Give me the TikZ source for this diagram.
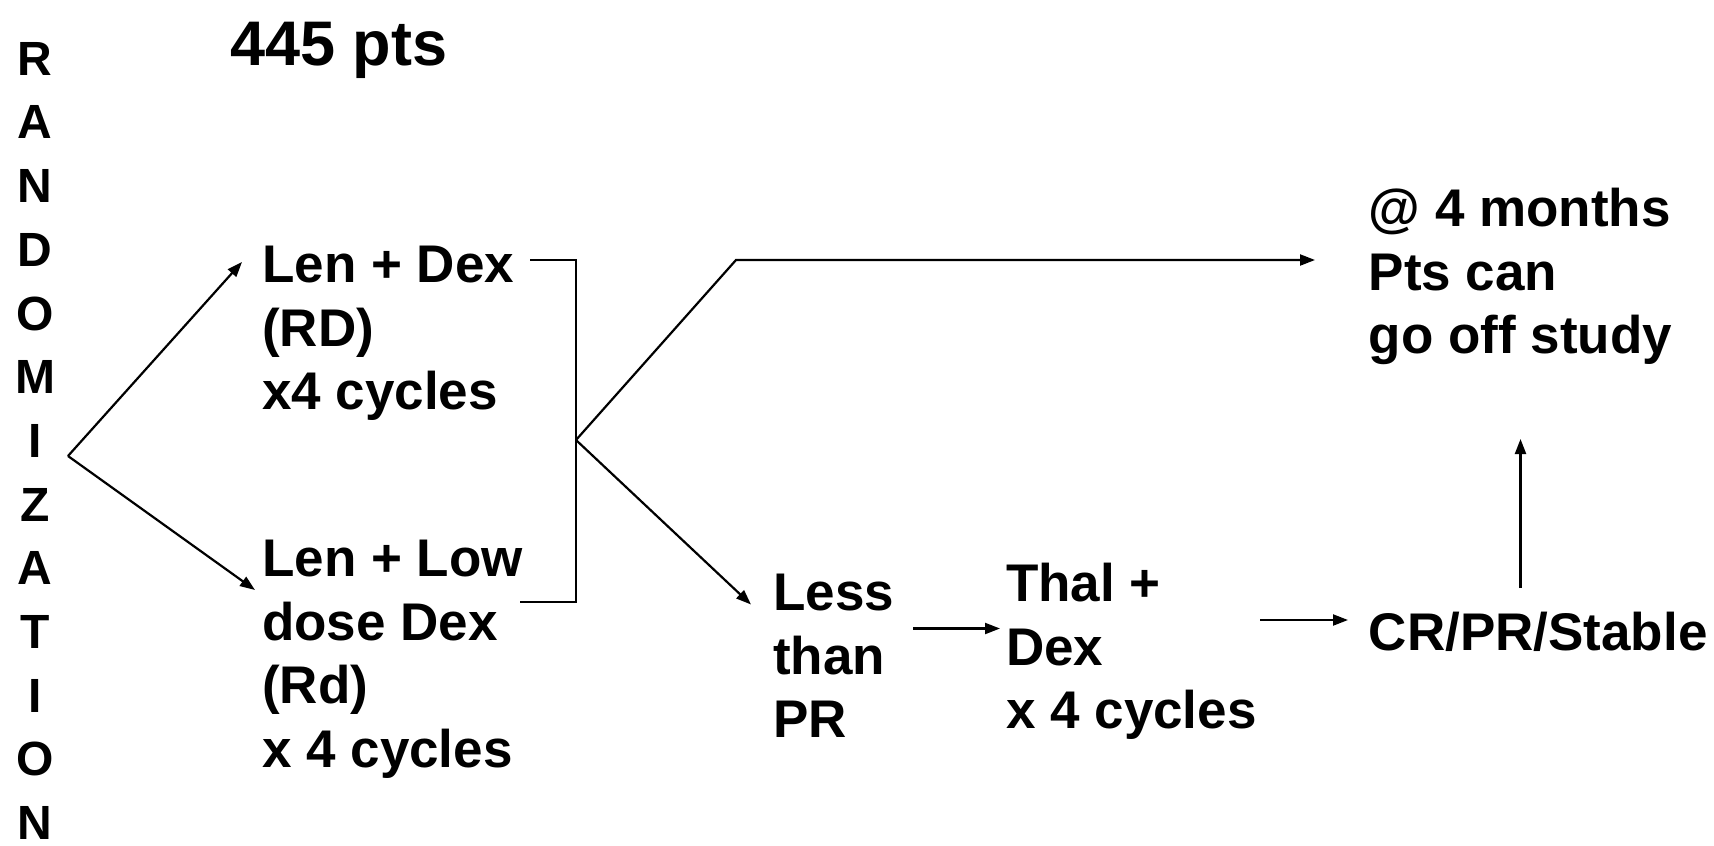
\documentclass[tikz,border=0pt]{standalone}
\usepackage{fontspec}
\setmainfont{Liberation Sans}
\usetikzlibrary{arrows.meta}

\begin{document}
\begin{tikzpicture}[x=1pt,y=-1pt,
  every node/.style={inner sep=0pt, font=\bfseries\fontsize{53}{63.6}\selectfont},
  txt/.style={anchor=north west, align=left},
  line/.style={line width=2.2pt, line join=miter},
  arr/.style={line, -{Triangle[length=15pt,width=11pt]}}]

% page frame
\fill[white] (0,0) rectangle (1714,846);
\useasboundingbox (0,0) rectangle (1714,846);

% labels
\node[anchor=north, align=center, font=\bfseries\fontsize{48}{63.7}\selectfont]
  (rand) at (35,42) {R\\A\\N\\D\\O\\M\\I\\Z\\A\\T\\I\\O\\N};
\node[anchor=base west, font=\bfseries\fontsize{63}{70}\selectfont]
  (npts) at (230,65.6) {445 pts};

\node[txt] (rd)    at (262,246)  {Len + Dex\\(RD)\\x4 cycles};
\node[txt] (rdlow) at (262,540)  {Len + Low\\dose Dex\\(Rd)\\x 4 cycles};
\node[txt] (less)  at (773,574)  {Less\\than\\PR};
\node[txt] (thal)  at (1006,563) {Thal +\\Dex\\x 4 cycles};
\node[txt] (resp)  at (1368.6,612) {CR/PR/Stable};
\node[txt] (off)   at (1368.6,188) {@ 4 months\\Pts can\\go off study};

% junctions and connector ends
\coordinate (split)    at (68,456);
\coordinate (rdin)     at (242,262);
\coordinate (rdlowin)  at (255,590);
\coordinate (rdout)    at (530,260);
\coordinate (rdlowout) at (520,602);
\coordinate (merge)    at (576,440);
\coordinate (bend)     at (736,260);
\coordinate (offin)    at (1315,260);
\coordinate (lessin)   at (751,604.5);
\coordinate (lessout)  at (913,628.5);
\coordinate (thalin)   at (1000,628.5);
\coordinate (thalout)  at (1260,620);
\coordinate (respin)   at (1348,620);
\coordinate (respout)  at (1520.5,588);
\coordinate (offbelow) at (1520.5,439);

% randomization split
\draw[arr] (split) -- (rdin);
\draw[arr] (split) -- (rdlowin);

% bracket joining both arms
\draw[line] (rdout) -- (rdout -| merge) -- (rdlowout -| merge) -- (rdlowout);

% outcomes after 4 cycles
\draw[arr] (merge) -- (bend) -- (offin);
\draw[arr] (merge) -- (lessin);
\draw[arr] (lessout) -- (thalin);
\draw[arr] (thalout) -- (respin);
\draw[arr] (respout) -- (offbelow);
\end{tikzpicture}
\end{document}
